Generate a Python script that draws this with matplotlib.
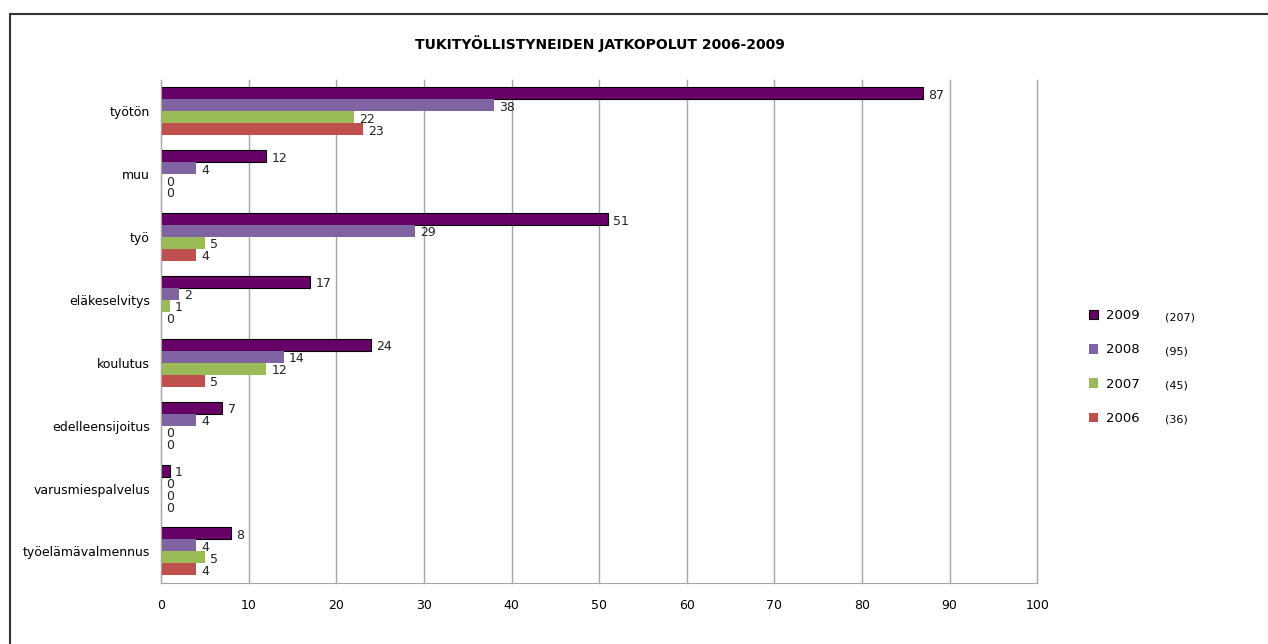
import numpy as np
import matplotlib.pyplot as plt
from matplotlib.patches import Rectangle

categories = ['työtön', 'muu', 'työ', 'eläkeselvitys', 'koulutus',
              'edelleensijoitus', 'varusmiespalvelus', 'työelämävalmennus']
years = ['2009', '2008', '2007', '2006']
totals = ['(207)', '(95)', '(45)', '(36)']
v2009 = [87, 12, 51, 17, 24, 7, 1, 8]
v2008 = [38, 4, 29, 2, 14, 4, 0, 4]
v2007 = [22, 0, 5, 1, 12, 0, 0, 5]
v2006 = [23, 0, 4, 0, 5, 0, 0, 4]
colors = ['#660066', '#8064A2', '#9BBB59', '#C0504D']

plt.rcParams['font.family'] = ['DejaVu Sans']
fig = plt.figure(figsize=(12.68, 6.44), dpi=100)
ax = fig.add_axes([0.127, 0.095, 0.691, 0.781])

# outer chart frame (left/top visible)
fig.add_artist(Rectangle((10 / 1268, -0.1), 1.2, 1 - 14 / 644 + 0.1, transform=fig.transFigure,
                         fill=False, edgecolor='#333333', linewidth=1.5))

y = np.arange(len(categories))
h = 0.19
series = [v2009, v2008, v2007, v2006]
for i, (vals, c, yr) in enumerate(zip(series, colors, years)):
    pos = y - 1.5 * h + i * h
    ax.barh(pos, vals, height=h, color=c,
            edgecolor='black' if i == 0 else c, linewidth=0.8 if i == 0 else 0, label=yr)
    for p, v in zip(pos, vals):
        ax.text(v + 0.6, p + 0.03, str(v), va='center', ha='left', fontsize=9, color='#222222')

ax.set_ylim(len(categories) - 0.5, -0.5)
ax.set_xlim(0, 100)
ax.set_xticks(range(0, 101, 10))
ax.set_yticks(y)
ax.set_yticklabels(categories, fontsize=9)
ax.tick_params(axis='x', labelsize=9, length=0, pad=12)
ax.tick_params(axis='y', length=0, pad=8)
ax.grid(axis='x', color='#a6a6a6', linewidth=1)
for gl in ax.get_xgridlines():
    gl.set_clip_on(False)
ax.set_axisbelow(True)
for s in ['top', 'right']:
    ax.spines[s].set_visible(False)
for s in ['left', 'bottom']:
    ax.spines[s].set_color('#a6a6a6')

fig.text(0.473, 0.933, 'TUKITYÖLLISTYNEIDEN JATKOPOLUT 2006-2009', ha='center', va='center',
         fontsize=10, fontweight='bold')

leg = ax.legend(loc='upper left', bbox_to_anchor=(1.045, 0.568), frameon=False, fontsize=9.5,
                handlelength=0.75, handleheight=0.75, labelspacing=1.62, handletextpad=0.6)
for j, t in enumerate(totals):
    fig.text(1165 / 1268, 1 - (318 + j * 33.7) / 644, t, fontsize=8, va='center', ha='left')

fig.savefig('out.png', dpi=100)
